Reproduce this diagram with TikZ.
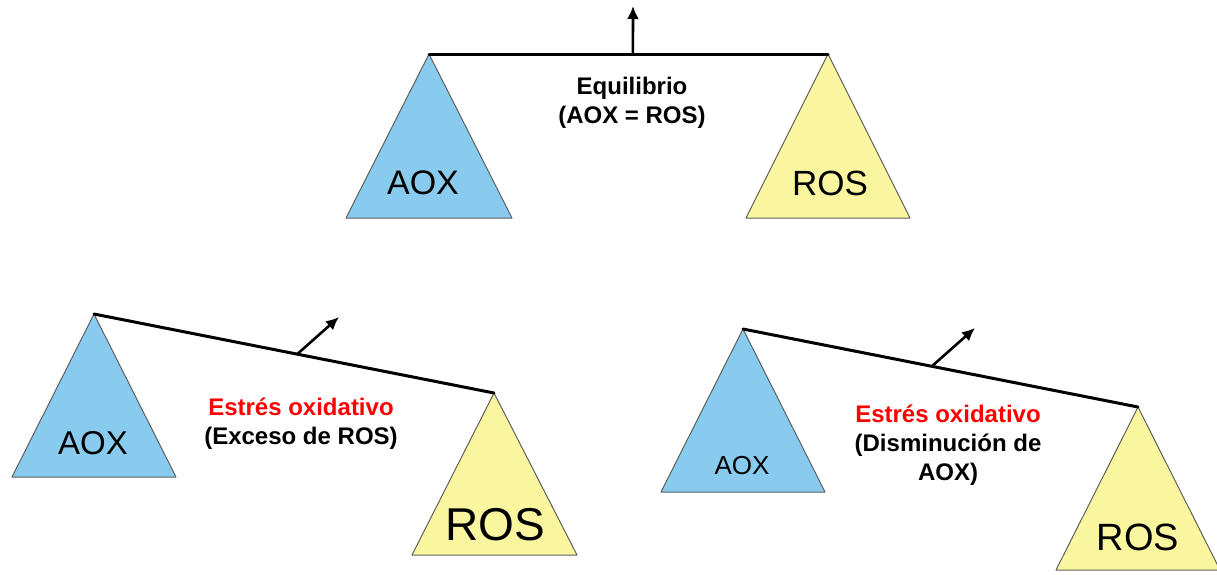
\documentclass[tikz,border=0pt]{standalone}
\usepackage{fontspec}
\setmainfont{Liberation Sans}
\usetikzlibrary{arrows.meta}
\definecolor{aoxblue}{RGB}{137,203,238}
\definecolor{rosyellow}{RGB}{250,246,160}
\definecolor{pangray}{RGB}{95,95,95}

\begin{document}
\begin{tikzpicture}
[x=1pt,y=-1pt,%
  pan/.style={draw=pangray,line width=1pt,line join=round},%
  beam/.style={line width=3pt,line cap=round},%
  lift/.style={line width=2.6pt,-{Latex[length=13pt,width=12pt]}},%
  tag/.style={inner sep=0pt,font=\fontsize{#1}{#1}\selectfont},%
  note/.style={inner sep=0pt,align=center,font=\fontsize{24}{29}\selectfont\bfseries}]
\useasboundingbox (0,0) rectangle (1217,574);

% balanced
\coordinate (eqL) at (429,54);
\coordinate (eqR) at (828,54);
\draw[pan,fill=aoxblue] (eqL) -- ++(-83,164) -- ++(166,0) -- cycle;
\draw[pan,fill=rosyellow] (eqR) -- ++(-82,164) -- ++(164,0) -- cycle;
\node[tag=34] (eqAOX) at (423,183) {AOX};
\node[tag=35] (eqROS) at (830,183) {ROS};
\draw[beam] (eqL) -- coordinate[pos=0.511] (eqPivot) (eqR);
\coordinate (eqTop) at (633,6);
\draw[lift] (eqPivot) -- (eqTop);
\node[note] (eqText) at (632,103) {Equilibrio\\(AOX = ROS)};

% too much ROS
\coordinate (exL) at (94,314);
\coordinate (exR) at (494,393);
\draw[pan,fill=aoxblue] (exL) -- ++(-82,163) -- ++(164,0) -- cycle;
\draw[pan,fill=rosyellow] (exR) -- ++(-82,162) -- ++(165,0) -- cycle;
\node[tag=33] (exAOX) at (93,443) {AOX};
\node[tag=46] (exROS) at (495,525) {ROS};
\draw[beam] (exL) -- coordinate[pos=0.508] (exPivot) (exR);
\coordinate (exTop) at (339,317);
\draw[lift] (exPivot) -- (exTop);
\node[note] (exText) at (301,424) {\textcolor{red}{Estrés oxidativo}\\(Exceso de ROS)};

% too little AOX
\coordinate (dmL) at (743,329);
\coordinate (dmR) at (1138,407);
\draw[pan,fill=aoxblue] (dmL) -- ++(-82,163) -- ++(164,0) -- cycle;
\draw[pan,fill=rosyellow] (dmR) -- ++(-82,163) -- ++(164,0) -- cycle;
\node[tag=26] (dmAOX) at (742,466) {AOX};
\node[tag=38] (dmROS) at (1138,537) {ROS};
\draw[beam] (dmL) -- coordinate[pos=0.478] (dmPivot) (dmR);
\coordinate (dmTop) at (975,328);
\draw[lift] (dmPivot) -- (dmTop);
\node[note] (dmText) at (948,445) {\textcolor{red}{Estrés oxidativo}\\(Disminución de\\AOX)};
\end{tikzpicture}
\end{document}
